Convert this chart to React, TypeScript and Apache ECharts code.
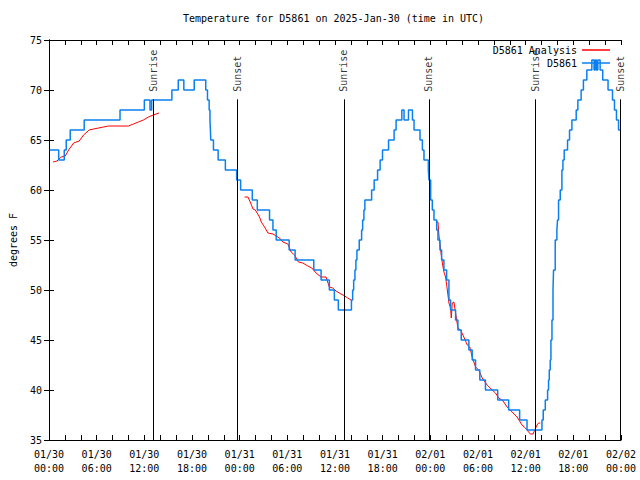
import React, { useEffect, useRef } from "react";
import * as echarts from "echarts";

const titleText = "Temperature for D5861 on 2025-Jan-30 (time in UTC)";
const yAxisName = "degrees F";
const dayLabels = ["01/30", "01/31", "02/01", "02/02"];

// hours since 01/30 00:00 UTC, temperature in F (value holds until next change)
const stationObs: [number, number][] = [
  [0.1, 64], [1.22, 63], [1.92, 64], [2.17, 65], [2.67, 66], [4.43, 67], [8.94, 68],
  [12.0, 69], [12.71, 68], [12.92, 69], [15.47, 70], [16.27, 71], [16.97, 70], [18.28, 71],
  [19.73, 70], [19.95, 69], [20.16, 68], [20.26, 67], [20.32, 66], [20.36, 65], [20.7, 64],
  [21.29, 63], [22.2, 62], [23.62, 61], [24.12, 60], [25.59, 59], [26.22, 58], [27.76, 57],
  [28.19, 56], [28.6, 55], [30.23, 54], [30.98, 53], [33.33, 52], [34.25, 51], [35.29, 50],
  [35.92, 49], [36.42, 48], [38.07, 49], [38.22, 50], [38.35, 51], [38.51, 52], [38.63, 53],
  [38.76, 54], [39.05, 55], [39.35, 56], [39.48, 57], [39.64, 58], [39.76, 59], [40.61, 60],
  [40.93, 61], [41.36, 62], [41.68, 63], [41.98, 64], [42.74, 65], [43.44, 66], [43.69, 67],
  [44.41, 68], [44.69, 67], [45.25, 68], [45.75, 67], [45.95, 66], [46.7, 65], [47.0, 64],
  [47.2, 63], [47.75, 62], [47.83, 61], [48.04, 59], [48.25, 58], [48.46, 57], [48.8, 56],
  [48.96, 55], [49.21, 54], [49.42, 53], [49.71, 52], [50.05, 51], [50.34, 49], [50.55, 48],
  [51.18, 47], [51.47, 46], [51.89, 45], [52.85, 44], [53.27, 43], [53.69, 42], [54.23, 41],
  [54.94, 40], [56.48, 39], [57.86, 38], [59.24, 37], [60.17, 36], [62.05, 37], [62.21, 38],
  [62.47, 39], [62.76, 40], [62.88, 41], [62.97, 42], [63.09, 43], [63.18, 45], [63.31, 47],
  [63.44, 50], [63.51, 52], [63.72, 55], [63.93, 56], [64.01, 57], [64.14, 59], [64.35, 60],
  [64.56, 62], [64.69, 63], [64.85, 64], [65.27, 65], [65.52, 66], [65.82, 67], [66.36, 68],
  [66.57, 69], [66.98, 70], [67.27, 71], [67.7, 72], [68.33, 73], [68.61, 72], [68.74, 73],
  [68.9, 72], [69.08, 73], [69.37, 72], [69.7, 71], [70.37, 70], [70.93, 69], [71.18, 68],
  [71.43, 67], [71.69, 66], [72.0, 66],
];

const analysisDay1: [number, number][] = [
  [0.5, 62.8], [1.0, 62.9], [1.54, 63.3], [2.04, 63.4], [2.47, 64.0], [3.1, 64.7], [3.8, 64.9],
  [4.35, 65.5], [5.06, 66.0], [5.61, 66.1], [6.23, 66.2], [6.86, 66.3], [7.49, 66.4],
  [10.0, 66.4], [10.62, 66.6], [11.25, 66.8], [11.88, 67.0], [12.51, 67.3], [13.13, 67.5],
  [13.84, 67.7],
];

const analysisDay2: [number, number][] = [
  [24.62, 59.3], [25.05, 59.3], [25.38, 58.7], [25.68, 58.1], [25.97, 58.0], [26.5, 57.3],
  [26.72, 56.8], [27.13, 56.3], [27.56, 55.7], [28.19, 55.6], [28.6, 55.4], [29.01, 55.2],
  [29.44, 54.8], [30.07, 54.6], [30.48, 53.8], [30.9, 53.5], [31.4, 52.8], [31.95, 52.7],
  [32.58, 52.4], [33.08, 52.2], [33.62, 51.7], [34.24, 51.3], [34.87, 51.3], [35.08, 50.8],
  [35.29, 50.3], [35.71, 50.2], [36.13, 49.9], [36.75, 49.6], [37.25, 49.4], [37.59, 49.2],
  [38.01, 49.0],
];

const analysisDay3: [number, number][] = [
  [48.71, 56.8], [48.96, 56.8], [49.08, 55.5], [49.3, 54.0], [49.51, 52.7], [49.71, 51.8],
  [49.92, 51.3], [50.14, 50.0], [50.34, 48.7], [50.55, 48.2], [50.64, 47.2], [50.76, 48.7],
  [50.97, 48.8], [51.18, 47.7], [51.47, 46.2], [51.8, 46.0], [52.22, 45.3], [52.65, 44.5],
  [52.97, 44.3], [53.27, 43.3], [53.69, 42.3], [54.1, 42.0], [54.53, 41.2], [55.15, 40.5],
  [55.78, 40.0], [56.2, 39.7], [56.61, 39.2], [57.16, 38.9], [57.66, 38.3], [58.29, 37.8],
  [58.92, 37.3], [59.54, 36.5], [59.96, 36.2], [60.37, 35.8], [60.59, 35.6], [60.93, 35.6],
  [61.21, 36.1], [61.43, 36.5], [61.63, 36.7], [61.84, 36.7],
];

const sunHours = [13.17, 23.71, 37.13, 47.81, 61.2, 71.95];
const sunNames = ["Sunrise", "Sunset", "Sunrise", "Sunset", "Sunrise", "Sunset"];
const sunLineTop = 69.07;

const FONT = "DejaVu Sans Mono";
const BLUE = "#0a80f0";
const RED = "#ff0000";

export default function App() {
  const ref = useRef<HTMLDivElement>(null);
  useEffect(() => {
    if (!ref.current) return;
    const chart = echarts.init(ref.current, undefined, { renderer: "svg" });
    const xLabel = (v: number) => {
      const h = Math.round(v);
      if (h % 6 !== 0) return "";
      const d = Math.floor(h / 24);
      const hh = h % 24;
      return dayLabels[d] + "\n" + String(hh).padStart(2, "0") + ":00";
    };
    const redSeries = [analysisDay1, analysisDay2, analysisDay3].map((d) => ({
      name: "D5861 Analysis",
      type: "line",
      data: d,
      symbol: "none",
      lineStyle: { color: RED, width: 1 },
      itemStyle: { color: RED },
      z: 2,
      silent: true,
    }));
    chart.setOption({
      animation: false,
      backgroundColor: "#ffffff",
      textStyle: { fontFamily: FONT, color: "#000" },
      title: {
        text: titleText,
        left: 183,
        top: 13,
        padding: 0,
        textStyle: { fontFamily: FONT, fontSize: 10, fontWeight: "normal", color: "#000" },
      },
      legend: {
        data: [
          { name: "D5861 Analysis", icon: "rect", itemStyle: { color: RED } },
          { name: "D5861", icon: "rect", itemStyle: { color: BLUE } },
        ],
        orient: "vertical",
        align: "right",
        right: 30,
        top: 44,
        itemWidth: 28,
        itemHeight: 1.5,
        itemGap: 1,
        padding: 0,
        textStyle: { fontFamily: FONT, fontSize: 10, color: "#000", lineHeight: 12 },
        selectedMode: false,
      },
      grid: { left: 47, top: 40, right: 19, bottom: 40 },
      xAxis: [
        {
          type: "value",
          min: 0,
          max: 72,
          interval: 2,
          axisLine: { lineStyle: { color: "#000", width: 1 } },
          axisTick: { inside: true, length: 5, lineStyle: { color: "#000" } },
          axisLabel: {
            formatter: xLabel,
            fontFamily: FONT,
            fontSize: 10,
            color: "#000",
            margin: 7,
            lineHeight: 14,
            showMinLabel: true,
            showMaxLabel: true,
          },
          splitLine: { show: false },
        },
        {
          type: "value",
          position: "top",
          min: 0,
          max: 72,
          interval: 2,
          axisLine: { lineStyle: { color: "#000", width: 1 } },
          axisTick: { inside: true, length: 5, lineStyle: { color: "#000" } },
          axisLabel: { show: false },
          splitLine: { show: false },
        },
      ],
      yAxis: [
        {
          type: "value",
          min: 35,
          max: 75,
          interval: 5,
          name: yAxisName,
          nameLocation: "middle",
          nameRotate: 90,
          nameGap: 31,
          nameTextStyle: { fontFamily: FONT, fontSize: 10, color: "#000" },
          axisLine: { show: true, lineStyle: { color: "#000", width: 1 } },
          axisTick: { show: true, inside: true, length: 5, lineStyle: { color: "#000" } },
          axisLabel: { fontFamily: FONT, fontSize: 10, color: "#000", margin: 7 },
          splitLine: { show: false },
        },
        {
          type: "value",
          position: "right",
          min: 35,
          max: 75,
          interval: 5,
          axisLine: { show: true, lineStyle: { color: "#000", width: 1 } },
          axisTick: { show: true, inside: true, length: 5, lineStyle: { color: "#000" } },
          axisLabel: { show: false },
          splitLine: { show: false },
        },
      ],
      series: [
        ...redSeries,
        {
          name: "D5861",
          type: "line",
          step: "end",
          data: stationObs,
          symbol: "none",
          lineStyle: { color: BLUE, width: 1.5 },
          itemStyle: { color: BLUE },
          z: 3,
          silent: true,
        },
        {
          name: "sun",
          type: "scatter",
          symbolSize: 1,
          itemStyle: { color: "rgba(0,0,0,0)" },
          silent: true,
          z: 4,
          data: sunHours.map((h, i) => ({ name: sunNames[i], value: [h, sunLineTop] })),
          label: {
            show: true,
            formatter: (p: any) => p.name,
            position: "top",
            distance: 7,
            rotate: 90,
            align: "left",
            verticalAlign: "middle",
            fontFamily: FONT,
            fontSize: 10,
            color: "#000",
          },
          markLine: {
            silent: true,
            symbol: ["none", "none"],
            label: { show: false },
            lineStyle: { color: "#000", width: 1, type: "solid" },
            data: sunHours.map((h) => [{ coord: [h, 35] }, { coord: [h, sunLineTop] }]),
          },
        },
      ],
    });
    return () => chart.dispose();
  }, []);
  return (
    <div
      ref={ref}
      style={{ position: "absolute", left: 0, top: 0, width: 640, height: 480 }}
    />
  );
}
